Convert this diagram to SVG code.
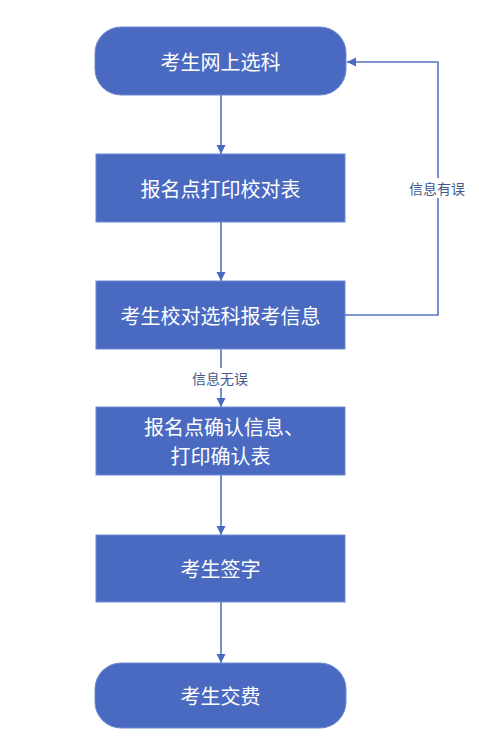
<svg xmlns="http://www.w3.org/2000/svg" width="479" height="746" viewBox="0 0 479 746">
<style>
.box{fill:#4A6AC1;stroke:#6F8AD0;stroke-width:1}
.t{font-family:"Noto Sans CJK SC","Noto Sans",sans-serif;font-size:20px;fill:#ffffff;text-anchor:middle;dominant-baseline:central}
.lbl{font-family:"Noto Sans CJK SC","Noto Sans",sans-serif;font-size:14px;fill:#41598C;text-anchor:middle;dominant-baseline:central}
.ln{fill:none;stroke:#5672C2;stroke-width:1.6}
</style>
<defs>
<marker id="ah" markerWidth="10" markerHeight="10" refX="9" refY="5" orient="auto" markerUnits="userSpaceOnUse">
<path d="M0,0.5 L9,5 L0,9.5 Z" fill="#4A6AC1"/>
</marker>
</defs>
<rect width="479" height="746" fill="#ffffff"/>
<g id="connectors">
<line class="ln" x1="221" y1="95" x2="221" y2="154" marker-end="url(#ah)"/>
<line class="ln" x1="221" y1="222" x2="221" y2="281" marker-end="url(#ah)"/>
<line class="ln" x1="221" y1="349" x2="221" y2="368"/>
<line class="ln" x1="221" y1="388" x2="221" y2="407" marker-end="url(#ah)"/>
<line class="ln" x1="221" y1="475" x2="221" y2="535" marker-end="url(#ah)"/>
<line class="ln" x1="221" y1="602" x2="221" y2="663" marker-end="url(#ah)"/>
<polyline class="ln" points="345,315 438,315 438,198"/>
<polyline class="ln" points="438,178 438,62 347,62" marker-end="url(#ah)"/>
<text class="lbl" x="437" y="188">信息有误</text>
<text class="lbl" x="220" y="378">信息无误</text>
</g>
<g id="n1"><rect class="box" x="95" y="27" width="251" height="68" rx="26"/><text class="t" x="220.5" y="61">考生网上选科</text></g>
<g id="n2"><rect class="box" x="96" y="154" width="249" height="68"/><text class="t" x="220.5" y="188">报名点打印校对表</text></g>
<g id="n3"><rect class="box" x="96" y="281" width="249" height="68"/><text class="t" x="220.5" y="315">考生校对选科报考信息</text></g>
<g id="n4"><rect class="box" x="96" y="407" width="249" height="68"/><text class="t" x="224" y="426">报名点确认信息、</text><text class="t" x="220.5" y="455">打印确认表</text></g>
<g id="n5"><rect class="box" x="96" y="535" width="249" height="67"/><text class="t" x="220.5" y="568">考生签字</text></g>
<g id="n6"><rect class="box" x="95" y="663" width="251" height="65" rx="26"/><text class="t" x="220.5" y="695">考生交费</text></g>
</svg>
